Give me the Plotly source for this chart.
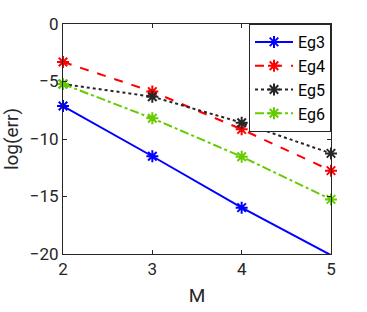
import plotly.graph_objects as go

M = [2, 3, 4, 5]
eg3 = [-7.13, -11.5, -15.97, -20.1]
eg4 = [-3.3, -5.88, -9.16, -12.75]
eg5 = [-5.22, -6.32, -8.58, -11.25]
eg6 = [-5.22, -8.2, -11.54, -15.25]
names = ["Eg3", "Eg4", "Eg5", "Eg6"]
colors = ["#0000FF", "#FF0000", "#262626", "#66CC00"]
dashes = ["solid", "dash", "dot", "dashdot"]

fig = go.Figure()
for name, ys, c, d in zip(names, [eg3, eg4, eg5, eg6], colors, dashes):
    fig.add_trace(go.Scatter(
        x=M, y=ys, name=name, mode="lines+markers",
        line=dict(color=c, width=2, dash=d),
        marker=dict(symbol="asterisk-open", size=10, color=c,
                    line=dict(color=c, width=2)),
        cliponaxis=False,
    ))

axis_common = dict(
    showline=True, linecolor="#262626", linewidth=1, mirror="ticks",
    ticks="inside", ticklen=4, tickcolor="#262626", showgrid=False,
    zeroline=False, automargin=False,
    tickfont=dict(family="Roboto", size=17, color="#262626"),
)
fig.update_xaxes(range=[2, 5], tickvals=[2, 3, 4, 5],
                 title=dict(text="M", font=dict(family="Roboto", size=19, color="#262626"), standoff=10),
                 **axis_common)
fig.update_yaxes(range=[-20, 0], tickvals=[0, -5, -10, -15, -20],
                 title=dict(text="log(err)", font=dict(family="Roboto", size=19, color="#262626"), standoff=8),
                 **axis_common)
fig.update_layout(
    width=367, height=312,
    margin=dict(l=63, r=36, t=24, b=58),
    plot_bgcolor="white", paper_bgcolor="white",
    legend=dict(x=1, y=1, xanchor="right", yanchor="top",
                bordercolor="#262626", borderwidth=1, bgcolor="white",
                font=dict(family="Roboto", size=16, color="black"),
                tracegroupgap=0, itemwidth=38),
)
fig.write_html("out.html", config={"displayModeBar": False},
               post_script="document.body.style.margin='0';")
